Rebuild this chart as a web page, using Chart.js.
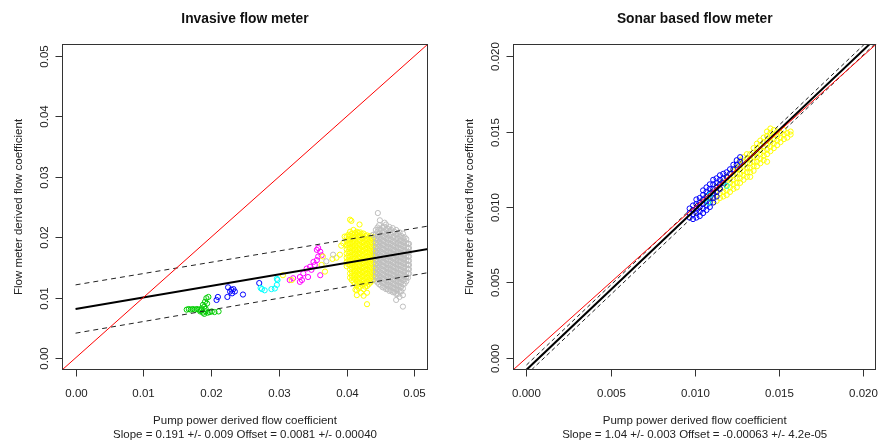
<!DOCTYPE html>
<html>
<head>
<meta charset="utf-8">
<script src="https://cdn.jsdelivr.net/npm/chart.js@4.4.1/dist/chart.umd.min.js"></script>
<style>
  html, body { margin: 0; padding: 0; background: #fff; }
  #wrap { position: relative; width: 880px; height: 441px; }
  .pane { position: absolute; top: 0; width: 440px; height: 441px; }
</style>
</head>
<body>
<div id="wrap">
  <div class="pane" style="left:0"><canvas id="c1"></canvas></div>
  <div class="pane" style="left:440px"><canvas id="c2"></canvas></div>
</div>
<script>
// ---- left panel: invasive flow meter ----
const invTicks = [0, 0.01, 0.02, 0.03, 0.04, 0.05];
const invTickLabels = ['0.00', '0.01', '0.02', '0.03', '0.04', '0.05'];

const invGreen = [[0.0164,0.0080],[0.0167,0.0081],[0.0170,0.0080],[0.0173,0.0081],[0.0176,0.0080],[0.0179,0.0081],
  [0.0182,0.0080],[0.0185,0.0079],[0.0184,0.0077],[0.0188,0.0075],[0.0190,0.0073],[0.0192,0.0077],[0.0195,0.0075],
  [0.0198,0.0076],[0.0201,0.0077],[0.0205,0.0076],[0.0211,0.0077],[0.0186,0.0082],[0.0188,0.0088],[0.0190,0.0085],
  [0.0191,0.0093],[0.0193,0.0099],[0.0196,0.0101],[0.0194,0.0090],[0.0192,0.0081]];
const invBlue = [[0.0208,0.0096],[0.0210,0.0101],[0.0224,0.0101],[0.0225,0.0117],[0.0228,0.0110],[0.0231,0.0107],
  [0.0233,0.0114],[0.0235,0.0110],[0.0230,0.0113],[0.0247,0.0105],[0.0271,0.0124]];
const invCyan = [[0.0275,0.0114],[0.0279,0.0112],[0.0289,0.0114],[0.0294,0.0115],[0.0297,0.0121],[0.0298,0.0129],
  [0.0297,0.0131],[0.0273,0.0116]];
const invMagenta = [[0.0316,0.0129],[0.0321,0.0132],[0.0331,0.0134],[0.0336,0.0140],[0.0341,0.0148],[0.0346,0.0151],
  [0.0348,0.0146],[0.0353,0.0154],[0.0351,0.0159],[0.0356,0.0162],[0.0358,0.0168],[0.0356,0.0179],[0.0358,0.0182],
  [0.0361,0.0176],[0.0363,0.0170],[0.0334,0.0129],[0.0343,0.0134],[0.0361,0.0137],[0.0331,0.0126]];
const invYellowOut = [[0.0306,0.0137],[0.0319,0.0129],[0.0365,0.0168],[0.0363,0.0154],[0.0368,0.0143],[0.0379,0.0164],
  [0.0385,0.0166],[0.0390,0.0171],[0.0392,0.0186],[0.0395,0.0190],[0.0397,0.0201],[0.0405,0.0229],[0.0407,0.0227],
  [0.0419,0.0221],[0.0430,0.0089],[0.0421,0.0108],[0.0413,0.0113]];
// yellow cloud: [x, [y values]] columns
const invYellowCloud = [
  [0.0400, [0.0152,0.0159,0.0166,0.0173,0.0180,0.0187,0.0194,0.0201]],
  [0.04025, [0.0155,0.0162,0.0169,0.0176,0.0183,0.0190,0.0197,0.0204]],
  [0.0405, [0.0133,0.0140,0.0147,0.0154,0.0161,0.0168,0.0175,0.0182,0.0189,0.0196,0.0203,0.0209]],
  [0.04075, [0.0129,0.0136,0.0143,0.0150,0.0157,0.0164,0.0171,0.0178,0.0185,0.0192,0.0199,0.0206]],
  [0.0410, [0.0126,0.0133,0.0140,0.0147,0.0154,0.0161,0.0168,0.0175,0.0182,0.0189,0.0196,0.0203,0.0212]],
  [0.04125, [0.0123,0.0130,0.0137,0.0144,0.0151,0.0158,0.0165,0.0172,0.0179,0.0186,0.0193,0.0200,0.0207]],
  [0.0415, [0.0104,0.0112,0.0120,0.0127,0.0134,0.0141,0.0148,0.0155,0.0162,0.0169,0.0176,0.0183,0.0190,0.0197,0.0204,0.0209]],
  [0.04175, [0.0116,0.0123,0.0130,0.0137,0.0144,0.0151,0.0158,0.0165,0.0172,0.0179,0.0186,0.0193,0.0200,0.0207]],
  [0.0420, [0.0118,0.0125,0.0132,0.0139,0.0146,0.0153,0.0160,0.0167,0.0174,0.0181,0.0188,0.0195,0.0202,0.0208]],
  [0.04225, [0.0121,0.0128,0.0135,0.0142,0.0149,0.0156,0.0163,0.0170,0.0177,0.0184,0.0191,0.0198,0.0205]],
  [0.0425, [0.0103,0.0114,0.0122,0.0129,0.0136,0.0143,0.0150,0.0157,0.0164,0.0171,0.0178,0.0185,0.0192,0.0199,0.0206]],
  [0.04275, [0.0118,0.0125,0.0132,0.0139,0.0146,0.0153,0.0160,0.0167,0.0174,0.0181,0.0188,0.0195,0.0202]],
  [0.0430, [0.0108,0.0119,0.0126,0.0133,0.0140,0.0147,0.0154,0.0161,0.0168,0.0175,0.0182,0.0189,0.0196,0.0203]],
  [0.04325, [0.0122,0.0129,0.0136,0.0143,0.0150,0.0157,0.0164,0.0171,0.0178,0.0185,0.0192,0.0199]],
  [0.0435, [0.0125,0.0132,0.0139,0.0146,0.0153,0.0160,0.0167,0.0174,0.0181,0.0188,0.0195,0.0202]],
  [0.04375, [0.0128,0.0135,0.0142,0.0149,0.0156,0.0163,0.0170,0.0177,0.0184,0.0191,0.0198]],
  [0.0440, [0.0130,0.0137,0.0144,0.0151,0.0158,0.0165,0.0172,0.0179,0.0186,0.0193,0.0200]],
  [0.04425, [0.0134,0.0141,0.0148,0.0155,0.0162,0.0169,0.0176,0.0183,0.0190]]
];
const invGrayOut = [[0.0370,0.0160],[0.0380,0.0171],[0.0446,0.0240],[0.0449,0.0228],[0.0456,0.0224],[0.0439,0.0204]];
const invGrayCloud = [
  [0.0443, [0.0128,0.0135,0.0142,0.0149,0.0156,0.0163,0.0170,0.0177,0.0184,0.0191,0.0198,0.0205,0.0212]],
  [0.04455, [0.0125,0.0132,0.0139,0.0146,0.0153,0.0160,0.0167,0.0174,0.0181,0.0188,0.0195,0.0202,0.0209,0.0216]],
  [0.0448, [0.0122,0.0129,0.0136,0.0143,0.0150,0.0157,0.0164,0.0171,0.0178,0.0185,0.0192,0.0199,0.0206,0.0213,0.0220]],
  [0.04505, [0.0120,0.0127,0.0134,0.0141,0.0148,0.0155,0.0162,0.0169,0.0176,0.0183,0.0190,0.0197,0.0204,0.0212]],
  [0.0453, [0.0117,0.0124,0.0131,0.0138,0.0145,0.0152,0.0159,0.0166,0.0173,0.0180,0.0187,0.0194,0.0201,0.0208,0.0216]],
  [0.04555, [0.0117,0.0124,0.0131,0.0138,0.0145,0.0152,0.0159,0.0166,0.0173,0.0180,0.0187,0.0194,0.0201,0.0209,0.0217]],
  [0.0458, [0.0114,0.0121,0.0128,0.0135,0.0142,0.0149,0.0156,0.0163,0.0170,0.0177,0.0184,0.0191,0.0198,0.0205,0.0213,0.0221]],
  [0.04605, [0.0114,0.0121,0.0128,0.0135,0.0142,0.0149,0.0156,0.0163,0.0170,0.0177,0.0184,0.0191,0.0198,0.0206,0.0214]],
  [0.0463, [0.0111,0.0118,0.0125,0.0132,0.0139,0.0146,0.0153,0.0160,0.0167,0.0174,0.0181,0.0188,0.0195,0.0202,0.0210,0.0217]],
  [0.04655, [0.0112,0.0119,0.0126,0.0133,0.0140,0.0147,0.0154,0.0161,0.0168,0.0175,0.0182,0.0189,0.0196,0.0204,0.0212]],
  [0.0468, [0.0109,0.0116,0.0123,0.0130,0.0137,0.0144,0.0151,0.0158,0.0165,0.0172,0.0179,0.0186,0.0193,0.0200,0.0208,0.0215]],
  [0.04705, [0.0109,0.0116,0.0123,0.0130,0.0137,0.0144,0.0151,0.0158,0.0165,0.0172,0.0179,0.0186,0.0193,0.0201,0.0209]],
  [0.0473, [0.0096,0.0106,0.0113,0.0120,0.0127,0.0134,0.0141,0.0148,0.0155,0.0162,0.0169,0.0176,0.0183,0.0190,0.0197,0.0205,0.0212]],
  [0.04755, [0.0106,0.0113,0.0120,0.0127,0.0134,0.0141,0.0148,0.0155,0.0162,0.0169,0.0176,0.0183,0.0190,0.0198,0.0205]],
  [0.0478, [0.0101,0.0110,0.0117,0.0124,0.0131,0.0138,0.0145,0.0152,0.0159,0.0166,0.0173,0.0180,0.0187,0.0194,0.0201,0.0208]],
  [0.04805, [0.0110,0.0118,0.0125,0.0132,0.0139,0.0146,0.0153,0.0160,0.0167,0.0174,0.0181,0.0188,0.0195,0.0202]],
  [0.0483, [0.0085,0.0104,0.0115,0.0122,0.0129,0.0136,0.0143,0.0150,0.0157,0.0164,0.0171,0.0178,0.0185,0.0192,0.0199,0.0206]],
  [0.04855, [0.0123,0.0130,0.0137,0.0144,0.0151,0.0158,0.0165,0.0172,0.0179,0.0186,0.0193,0.0200]],
  [0.0488, [0.0127,0.0134,0.0141,0.0148,0.0155,0.0162,0.0169,0.0176,0.0183,0.0190,0.0197]],
  [0.04905, [0.0133,0.0140,0.0147,0.0154,0.0161,0.0168,0.0175,0.0182,0.0189]],
  [0.0492, [0.0140,0.0147,0.0154,0.0161,0.0168,0.0175,0.0182,0.0189]]
];
// fit line and prediction band (x from 0 to 0.055)
const invLineX = [0, 0.055];
const invFitY = [0.0081, 0.0186];
const invUpperY = [0.0121, 0.0224];
const invLowerY = [0.0041, 0.0147];
const invOneX = [-0.003, 0.055];

// ---- right panel: sonar based flow meter ----
const sonTicks = [0, 0.005, 0.01, 0.015, 0.02];
const sonTickLabels = ['0.000', '0.005', '0.010', '0.015', '0.020'];

const sonYellowCloud = [
  [0.0109, [0.0104,0.0107]],
  [0.0111, [0.0103,0.0106,0.0109]],
  [0.0113, [0.0104,0.0107,0.0110,0.0113]],
  [0.0115, [0.0106,0.0109,0.0112,0.0115]],
  [0.0117, [0.0107,0.0110,0.0113,0.0116]],
  [0.0119, [0.0108,0.0111,0.0114,0.0117,0.0120]],
  [0.0121, [0.0110,0.0113,0.0116,0.0119,0.0122]],
  [0.0123, [0.0112,0.0115,0.0118,0.0121,0.0124]],
  [0.0125, [0.0113,0.0116,0.0119,0.0122,0.0125,0.0128]],
  [0.0127, [0.0116,0.0119,0.0122,0.0125,0.0128,0.0131]],
  [0.0129, [0.0118,0.0121,0.0124,0.0127,0.0130,0.0133]],
  [0.0131, [0.0120,0.0123,0.0126,0.0129,0.0132,0.0135]],
  [0.0133, [0.0120,0.0123,0.0126,0.0129,0.0132,0.0135]],
  [0.0135, [0.0124,0.0127,0.0130,0.0133,0.0136,0.0139]],
  [0.0137, [0.0127,0.0130,0.0133,0.0136,0.0139,0.0142]],
  [0.0139, [0.0129,0.0132,0.0135,0.0138,0.0141,0.0144]],
  [0.0141, [0.0131,0.0134,0.0137,0.0140,0.0143,0.0146]],
  [0.0143, [0.0130,0.0135,0.0138,0.0141,0.0144,0.0147,0.0150]],
  [0.0145, [0.0137,0.0140,0.0143,0.0146,0.0149,0.0152]],
  [0.0147, [0.0139,0.0142,0.0145,0.0148,0.0151]],
  [0.0149, [0.0141,0.0144,0.0147,0.0150]],
  [0.0151, [0.0143,0.0146,0.0149]],
  [0.0153, [0.0145,0.0148,0.0151]],
  [0.0155, [0.0146,0.0149]],
  [0.0157, [0.0148,0.0150]]
];
const sonBlueCloud = [
  [0.0097, [0.0093,0.0096,0.0099]],
  [0.0099, [0.0092,0.0095,0.0098,0.0101]],
  [0.0101, [0.0093,0.0096,0.0099,0.0102,0.0105]],
  [0.0103, [0.0094,0.0097,0.0100,0.0103,0.0106]],
  [0.0105, [0.0096,0.0099,0.0102,0.0105,0.0108,0.0111]],
  [0.0107, [0.0098,0.0101,0.0104,0.0107,0.0110,0.0113]],
  [0.0109, [0.0100,0.0103,0.0106,0.0109,0.0112,0.0115]],
  [0.0111, [0.0103,0.0106,0.0109,0.0112,0.0115,0.0118]],
  [0.0113, [0.0107,0.0110,0.0113,0.0116,0.0119]],
  [0.0115, [0.0112,0.0115,0.0118,0.0121]],
  [0.0117, [0.0116,0.0119,0.0122]],
  [0.0119, [0.0120,0.0123]],
  [0.0121, [0.0122,0.0125]],
  [0.0123, [0.0125,0.0128]],
  [0.0125, [0.0128,0.0131]],
  [0.0127, [0.0130,0.0133]]
];
const sonCyan = [[0.0108,0.0103],[0.0109,0.0108],[0.0119,0.0114]];
const sonLineX = [0, 0.0215];
const sonFitY = [-0.00079, 0.02196];
const sonUpperY = [-0.00047, 0.02228];
const sonLowerY = [-0.00111, 0.02164];
const sonOneX = [-0.001, 0.0215];

// ---- helpers ----
function cols(list) {
  const out = [];
  list.forEach(([x, ys]) => ys.forEach(y => out.push([x, y])));
  return out;
}
function pts(list, color) {
  return { type: 'scatter', data: list.map(p => ({ x: p[0], y: p[1] })), showLine: false,
    pointStyle: 'circle', pointRadius: 2.6, pointHoverRadius: 2.6, pointBorderWidth: 1,
    pointBorderColor: color, pointBackgroundColor: 'rgba(0,0,0,0)' };
}
function line(xs, ys, color, width, dash) {
  return { type: 'line', data: xs.map((x, i) => ({ x: x, y: ys[i] })), showLine: true,
    borderColor: color, borderWidth: width, borderDash: dash || [], pointRadius: 0, fill: false, tension: 0 };
}
// list is given bottom-first; chart.js paints lowest order last (on top)
function stack(list) {
  return list.map((d, i) => Object.assign(d, { order: list.length - i }));
}

const FONT = '"Liberation Sans", Arial, sans-serif';

// R-like frame, ticks and texts
const rFrame = {
  id: 'rFrame',
  afterDraw(chart, args, o) {
    const ctx = chart.ctx, a = chart.chartArea;
    const xs = chart.scales.x, ys = chart.scales.y;
    const L = Math.round(a.left) + 0.5, R = Math.round(a.right) - 0.5;
    const T = Math.round(a.top) + 0.5, B = Math.round(a.bottom) - 0.5;
    const cx = (a.left + a.right) / 2, cy = (a.top + a.bottom) / 2;
    ctx.save();
    ctx.strokeStyle = '#333';
    ctx.lineWidth = 1;
    ctx.setLineDash([]);
    ctx.strokeRect(L, T, R - L, B - T);
    ctx.fillStyle = '#222';
    ctx.font = '11.5px ' + FONT;
    ctx.textAlign = 'center';
    ctx.textBaseline = 'alphabetic';
    o.ticks.forEach((v, i) => {
      const px = Math.round(xs.getPixelForValue(v)) + 0.5;
      ctx.beginPath(); ctx.moveTo(px, B); ctx.lineTo(px, B + 7); ctx.stroke();
      ctx.fillText(o.labels[i], px, B + 27);
      const py = Math.round(ys.getPixelForValue(v)) + 0.5;
      ctx.beginPath(); ctx.moveTo(L - 7, py); ctx.lineTo(L, py); ctx.stroke();
      ctx.save();
      ctx.translate(L - 15, py);
      ctx.rotate(-Math.PI / 2);
      ctx.fillText(o.labels[i], 0, 0);
      ctx.restore();
    });
    ctx.fillText(o.xlab, cx, 423.5);
    ctx.fillText(o.sub, cx, 437.5);
    ctx.save();
    ctx.translate(L - 41, cy);
    ctx.rotate(-Math.PI / 2);
    ctx.fillText(o.ylab, 0, 0);
    ctx.restore();
    ctx.fillStyle = '#111';
    ctx.font = 'bold 13.8px ' + FONT;
    ctx.fillText(o.title, cx, 22.5);
    ctx.restore();
  }
};

function makeChart(id, datasets, range, pad, frame) {
  return new Chart(document.getElementById(id), {
    type: 'scatter',
    data: { datasets: datasets },
    options: {
      responsive: true,
      maintainAspectRatio: false,
      animation: false,
      layout: { padding: pad },
      scales: {
        x: { type: 'linear', display: false, min: range[0], max: range[1] },
        y: { type: 'linear', display: false, min: range[0], max: range[1] }
      },
      plugins: { legend: { display: false }, tooltip: { enabled: false }, rFrame: frame },
      events: []
    },
    plugins: [rFrame]
  });
}

makeChart('c1', stack([
  pts(invGreen, '#00CD00'),
  pts(invBlue, '#0000FF'),
  pts(invCyan, '#00FFFF'),
  pts(invMagenta, '#FF00FF'),
  pts(invYellowOut.concat(cols(invYellowCloud)), '#FFFF00'),
  pts(invGrayOut.concat(cols(invGrayCloud)), '#BEBEBE'),
  line(invLineX, invUpperY, '#222', 1, [5, 4]),
  line(invLineX, invLowerY, '#222', 1, [5, 4]),
  line(invLineX, invFitY, '#000', 2),
  line(invOneX, invOneX, '#FF0000', 1)
]), [-0.002, 0.052], { left: 62, right: 12, top: 44, bottom: 71 }, {
  title: 'Invasive flow meter',
  xlab: 'Pump power derived flow coefficient',
  sub: 'Slope = 0.191 +/- 0.009 Offset = 0.0081 +/- 0.00040',
  ylab: 'Flow meter derived flow coefficient',
  ticks: invTicks, labels: invTickLabels
});

makeChart('c2', stack([
  pts(cols(sonYellowCloud), '#FFFF00'),
  pts(cols(sonBlueCloud), '#0000FF'),
  pts(sonCyan, '#00FFFF'),
  line(sonLineX, sonFitY, '#000', 2),
  line(sonLineX, sonUpperY, '#222', 1, [4, 3]),
  line(sonLineX, sonLowerY, '#222', 1, [4, 3]),
  line(sonOneX, sonOneX, '#FF0000', 1)
]), [-0.0008, 0.0208], { left: 73, right: 1, top: 44, bottom: 71 }, {
  title: 'Sonar based flow meter',
  xlab: 'Pump power derived flow coefficient',
  sub: 'Slope = 1.04 +/- 0.003 Offset = -0.00063 +/- 4.2e-05',
  ylab: 'Flow meter derived flow coefficient',
  ticks: sonTicks, labels: sonTickLabels
});
</script>
</body>
</html>
